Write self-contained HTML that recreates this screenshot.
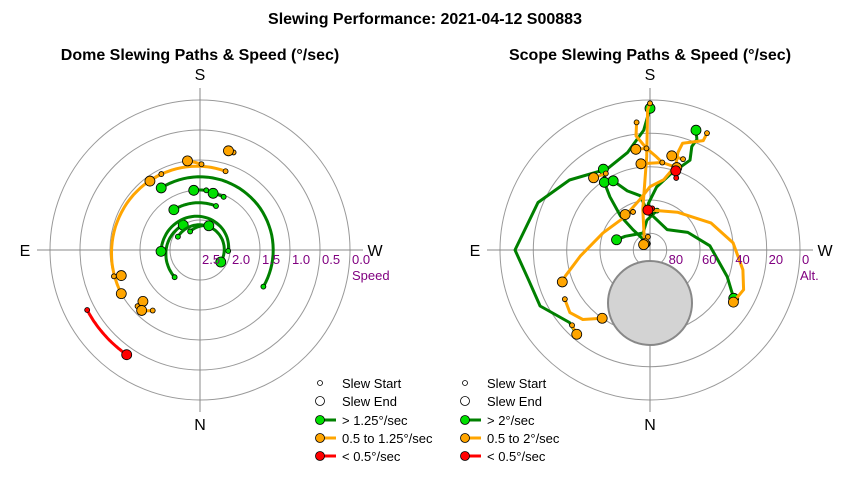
<!DOCTYPE html>
<html><head><meta charset="utf-8"><style>
body{margin:0;background:#fff}
svg{display:block;font-family:"Liberation Sans",sans-serif}
</style></head><body>
<svg id="chart" width="850" height="480" viewBox="0 0 850 480">
<rect width="850" height="480" fill="#fff"/>
<text x="425" y="24" text-anchor="middle" font-size="16" font-weight="bold">Slewing Performance: 2021-04-12 S00883</text>
<text x="200" y="60" text-anchor="middle" font-size="16" font-weight="bold">Dome Slewing Paths &amp; Speed (°/sec)</text>
<text x="650" y="60" text-anchor="middle" font-size="16" font-weight="bold">Scope Slewing Paths &amp; Speed (°/sec)</text>
<g id="dome"></g>
<g id="scope"></g>
<g id="legends"></g>
</svg>
<script>
// ---------- Dome data (azimuth deg, speed deg/sec) ----------
const domeCat   = ['o','g','g','g','g','g','g','g','g','o','o','o','o','o','o','r'];
const domeAz0   = [198,300,200, 43,272,121,152,186,204,181,199,153, 73, 48, 38, 62];
const domeAz1   = [ 61,148,147,146, 88,300,200,174,193,172,196,144, 72, 48, 44, 35];
const domeSp0   = [1.12,1.28,1.72,1.88,2.03,2.07,2.15,1.5,1.53,1.07,0.78,1.08,1.0,1.1,1.22,0.37];
const domeSp1   = [1.0,1.28,1.7,2.0,1.85,2.1,2.07,1.5,1.53,1.0,0.78,1.08,1.12,1.22,1.1,0.37];
const speedTicks = ['2.5','2.0','1.5','1.0','0.5','0.0'];
// ---------- Scope data (paths of [az, alt]) ----------
const scopeCat = ['g','g','g','g','g','g','g','o','o','o','o','o','o','o','o','o','o','o','o','r','r'];
const scopeAz = [
 [41,48,63,76,90,113,131,152,167,177,180],
 [162,140,139,143,146],
 [176,170,159,152],
 [190,174,158,119,107],
 [180,220,245,266,289,300],
 [176,178,186,195,204,202,203,201],
 [149,150],
 [180,179,178,170,139],
 [206,206,197,196,197,191,180,169,140,110,85,73,70],
 [180,216,246,265,282,293,302],
 [174,173,178,184,188,198],
 [60,52,44,35],
 [46,41],
 [171,130],
 [188,174],
 [178,172],
 [200,193],
 [150,142],
 [156,145],
 [200,198],
 [183,177]
];
const scopeAlt = [
 [23,25,16,15,9,17,26,35,30,18,5],
 [86,74,63,50,41],
 [67,57,52,43],
 [66,72,79,73,69],
 [68,74,65,54,41,32],
 [67,62,52,43,31,23,18,13],
 [37,34],
 [2,6,34,65,85],
 [12,17,23,29,37,47,52,59,65,60,48,37,34],
 [66,62,50,40,33,29,31],
 [13,21,29,34,37,38],
 [31,29,32,40],
 [25,23],
 [82,85],
 [37,38],
 [29,29],
 [32,32],
 [37,35],
 [65,64],
 [44,40],
 [65,66]
];
const altTicks = ['80','60','40','20','0'];
const altTickVals = [80,60,40,20,0];

const COL={g:['#008000','#00e000'],o:['#ffa500','#ffa500'],r:['#ff0000','#ff0000']};
const NS='http://www.w3.org/2000/svg';
function mk(tag,attrs,parent){const e=document.createElementNS(NS,tag);for(const k in attrs)e.setAttribute(k,attrs[k]);parent.appendChild(e);return e;}

function drawFrame(g,cx,cy,rings){
  rings.forEach(r=>{
    const c=mk('circle',{cx:cx,cy:cy,r:r,fill:'none',stroke:'#999','stroke-width':1},g);
    
    
  });
  const h=mk('line',{x1:cx-163,y1:cy,x2:cx+163,y2:cy,stroke:'#888','stroke-width':1},g);
  
  
  const v=mk('line',{x1:cx,y1:cy-162,x2:cx,y2:cy+162,stroke:'#888','stroke-width':1},g);
  
  
  [['S',cx,cy-170],['N',cx,cy+180],['E',cx-175,cy+6],['W',cx+175,cy+6]].forEach(d=>{
    const t=mk('text',{x:d[1],y:d[2],'text-anchor':'middle','font-size':16},g);
    t.textContent=d[0];
    
    
  });
}
function pt(cx,cy,az,r){const a=az*Math.PI/180;return [cx-r*Math.sin(a),cy+r*Math.cos(a)];}
function marker(g,x,y,r,fill,name){
  const c=mk('circle',{cx:x,cy:y,r:r,fill:fill,stroke:'#000','stroke-width':0.8},g);
  
  
}

// ---------- Dome ----------
(function(){
  const g=document.getElementById('dome');const cx=200,cy=250;
  drawFrame(g,cx,cy,[30,60,90,120,150]);
  const sr=s=>150-60*s;
  for(let i=0;i<domeCat.length;i++){
    const a0=domeAz0[i],a1=domeAz1[i],n=40;let d='';
    for(let k=0;k<=n;k++){const t=k/n;const az=a0+(a1-a0)*t;const s=domeSp0[i]+(domeSp1[i]-domeSp0[i])*t;const p=pt(cx,cy,az,sr(s));d+=(k?'L':'M')+p[0].toFixed(1)+','+p[1].toFixed(1);}
    const c=COL[domeCat[i]];
    const path=mk('path',{d:d,fill:'none',stroke:c[0],'stroke-width':3},g);
    
    
    const p0=pt(cx,cy,a0,sr(domeSp0[i])),p1=pt(cx,cy,a1,sr(domeSp1[i]));
    marker(g,p0[0],p0[1],2.5,c[1],'dome-slew-start');
    marker(g,p1[0],p1[1],5,c[1],'dome-slew-end');
  }
  speedTicks.forEach((s,i)=>{
    const t=mk('text',{x:cx+2+30*i,y:cy+14,'font-size':13,fill:'#800080'},g);
    t.textContent=s;
    
    
  });
  const sl=mk('text',{x:cx+152,y:cy+30,'font-size':13,fill:'#800080'},g);
  sl.textContent='Speed';
  
  
})();

// ---------- Scope ----------
(function(){
  const g=document.getElementById('scope');const cx=650,cy=250;
  drawFrame(g,cx,cy,[16.7,50,83.3,116.7,150]);
  const moon=mk('circle',{cx:cx,cy:cy+53,r:42,fill:'#d3d3d3',stroke:'#888','stroke-width':2},g);
  
  
  const ar=a=>150*(90-a)/90;
  for(let i=0;i<scopeCat.length;i++){
    const az=scopeAz[i],al=scopeAlt[i];let d='';
    for(let k=0;k<az.length;k++){const p=pt(cx,cy,az[k],ar(al[k]));d+=(k?'L':'M')+p[0].toFixed(1)+','+p[1].toFixed(1);}
    const c=COL[scopeCat[i]];
    const path=mk('path',{d:d,fill:'none',stroke:c[0],'stroke-width':3,'stroke-linejoin':'round'},g);
    
    
    const p0=pt(cx,cy,az[0],ar(al[0])),p1=pt(cx,cy,az[az.length-1],ar(al[al.length-1]));
    marker(g,p0[0],p0[1],2.5,c[1],'scope-slew-start');
    marker(g,p1[0],p1[1],5,c[1],'scope-slew-end');
  }
  altTicks.forEach((s,i)=>{
    const t=mk('text',{x:cx+ar(altTickVals[i])+2,y:cy+14,'font-size':13,fill:'#800080'},g);
    t.textContent=s;
    
    
  });
  const al=mk('text',{x:cx+150,y:cy+30,'font-size':13,fill:'#800080'},g);
  al.textContent='Alt.';
  
  
})();

// ---------- Legends ----------
(function(){
  const g=document.getElementById('legends');
  function legend(x,labels,prefix){
    const ys=[383,401,420,438,456];
    ys.forEach((y,i)=>{
      if(i===0){marker(g,x,y,2.5,'#fff',prefix+'-legend-start-marker');}
      else if(i===1){marker(g,x,y,4.5,'#fff',prefix+'-legend-end-marker');}
      else{
        const c=[COL.g,COL.o,COL.r][i-2];
        const l=mk('line',{x1:x,y1:y,x2:x+16,y2:y,stroke:c[0],'stroke-width':3},g);
        
        
        marker(g,x,y,4.5,c[1],prefix+'-legend-marker');
      }
      const t=mk('text',{x:x+22,y:y+5,'font-size':13},g);
      t.textContent=labels[i];
      
      
    });
  }
  legend(320,['Slew Start','Slew End','> 1.25°/sec','0.5 to 1.25°/sec','< 0.5°/sec'],'dome');
  legend(465,['Slew Start','Slew End','> 2°/sec','0.5 to 2°/sec','< 0.5°/sec'],'scope');
})();
</script>
</body></html>
